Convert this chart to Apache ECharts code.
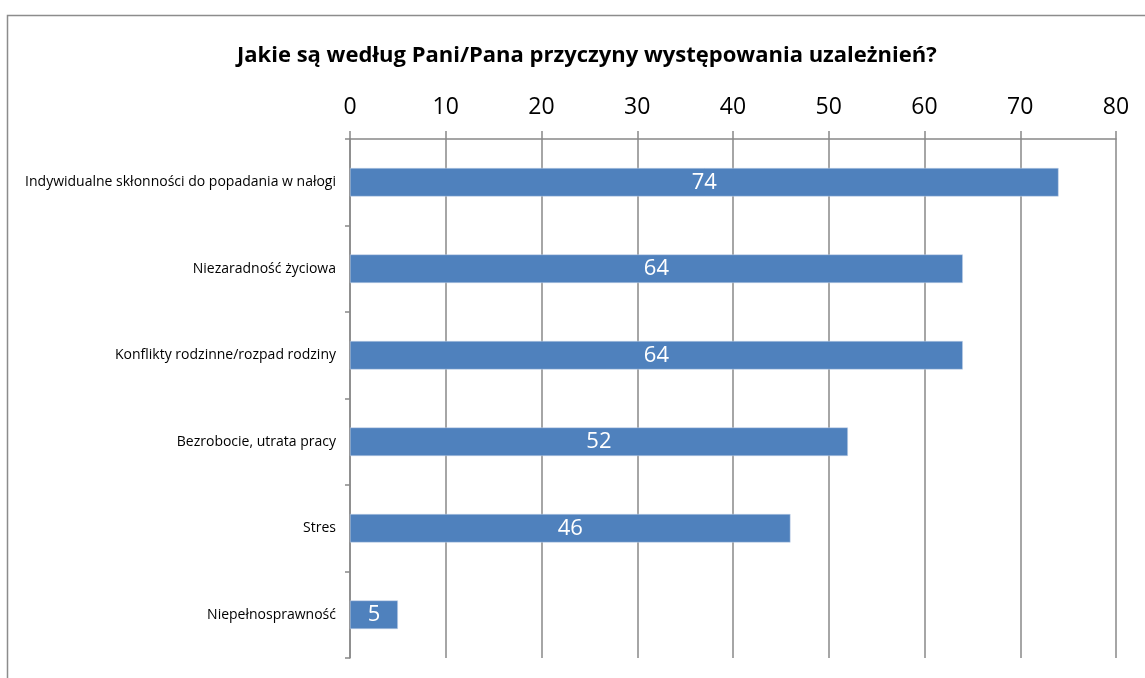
<!DOCTYPE html>
<html><head><meta charset="utf-8">
<script src="https://cdn.jsdelivr.net/npm/echarts@6/dist/echarts.min.js"></script>
<style>html,body{margin:0;padding:0;background:#fff}#c{width:1145px;height:678px}</style>
</head><body><div id="c"></div>
<script>
const categories = ['Indywidualne skłonności do popadania w nałogi','Niezaradność życiowa','Konflikty rodzinne/rozpad rodziny','Bezrobocie, utrata pracy','Stres','Niepełnosprawność'];
const values = [74, 64, 64, 52, 46, 5];
const xTicks = [0,10,20,30,40,50,60,70,80];
const titleText = 'Jakie są według Pani/Pana przyczyny występowania uzależnień?';

const chart = echarts.init(document.getElementById('c'));
const font = '"Open Sans", "Liberation Sans", sans-serif';
chart.setOption({
  animation:false,
  backgroundColor:'#fff',
  graphic:[{type:'rect',shape:{x:7.5,y:15.5,width:1200,height:700},style:{fill:'none',stroke:'#8c8c8c',lineWidth:1.5},z:-1}],
  title:{text:titleText,left:232,top:40,textStyle:{fontFamily:font,fontWeight:'bold',fontSize:22,color:'#000'}},
  grid:{left:350,right:29,top:139,bottom:20},
  xAxis:{type:'value',position:'top',min:xTicks[0],max:xTicks[xTicks.length-1],interval:10,
    axisLine:{show:true,lineStyle:{color:'#888',width:1.5}},
    axisTick:{show:true,length:8,lineStyle:{color:'#888',width:1.5}},
    axisLabel:{fontFamily:font,fontSize:23,color:'#000',margin:20},
    splitLine:{show:true,lineStyle:{color:'#888',width:1.5}}},
  yAxis:{type:'category',inverse:true,data:categories,
    axisLine:{show:true,lineStyle:{color:'#888',width:1.5}},
    axisTick:{show:true,length:5,lineStyle:{color:'#888',width:1.5}},
    axisLabel:{fontFamily:font,fontSize:14,color:'#000',margin:14}},
  series:[{type:'bar',data:values,barWidth:'33%',
    itemStyle:{color:'#4F81BD',borderColor:'#c8d7ea',borderWidth:0.5},
    label:{show:true,position:'inside',color:'#fff',fontFamily:font,fontSize:22}}]
});
</script></body></html>
